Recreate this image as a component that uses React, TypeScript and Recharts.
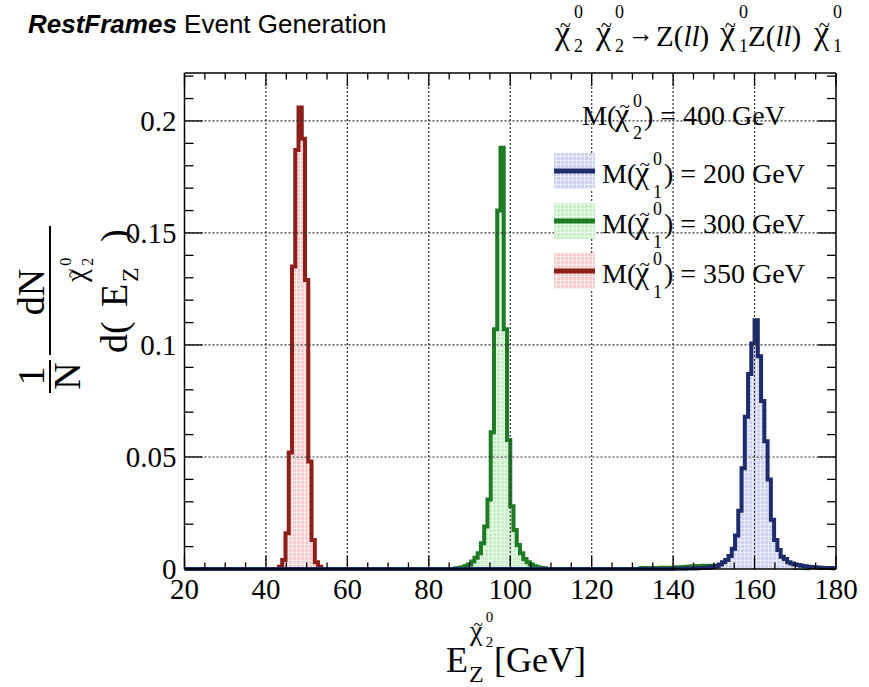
import React from 'react';
import { ComposedChart, Area, XAxis, YAxis, ReferenceLine } from 'recharts';

// ---------- binning (histogram with 0.8 GeV bins from 20 to 180) ----------
const X_MIN = 20;
const X_MAX = 180;
const BIN_WIDTH = 0.8;
const N_BINS = 200;
const Y_MAX = 0.2214;

// ---------- series values (per-bin fractions) ----------
// M(chi1) = 350 GeV (red), first bin index 29
const redStart = 29;
const redValues = [0.001, 0.004, 0.016, 0.052, 0.135, 0.187, 0.206, 0.192, 0.129, 0.048, 0.013, 0.003, 0.001];

// M(chi1) = 300 GeV (green), main peak, first bin index 83
const greenStart = 83;
const greenValues = [
  0.0003, 0.0005, 0.0008, 0.0013, 0.002, 0.0033, 0.005, 0.007, 0.0115, 0.019, 0.031, 0.061, 0.107, 0.16,
  0.188,
  0.107, 0.0576, 0.028, 0.0174, 0.0107, 0.007, 0.0045, 0.003, 0.002, 0.0012, 0.0008, 0.0005, 0.0003,
];
// green small tail at high energy, first bin index 140
const greenTailStart = 140;
const greenTailValues = [
  0.0004, 0.0005, 0.0005, 0.0004, 0.0005, 0.0005, 0.0006, 0.0005, 0.0006, 0.0006, 0.0007,
  0.0008, 0.0008, 0.0009, 0.0010, 0.0011,
  0.0012, 0.0013, 0.0013, 0.0014, 0.0014, 0.0015, 0.0014, 0.0015, 0.0015, 0.0016,
  0.0015, 0.0016, 0.0015, 0.0015, 0.0014, 0.0015, 0.0014, 0.0014, 0.0013, 0.0014,
  0.0013, 0.0013, 0.0012, 0.0012, 0.0011, 0.0011, 0.0010, 0.0010, 0.0009, 0.0009,
  0.0008, 0.0007, 0.0006, 0.0005, 0.0004, 0.0003,
];

// M(chi1) = 200 GeV (blue), first bin index 150
const blueStart = 150;
const blueValues = [
  0.0001, 0.0001, 0.00015, 0.00015, 0.0002, 0.0002, 0.00025, 0.0003, 0.0004, 0.0005,
  0.0006, 0.0008, 0.001, 0.0013, 0.002, 0.003, 0.004, 0.0058, 0.009, 0.015,
  0.026, 0.045, 0.068, 0.087, 0.1007, 0.111, 0.095, 0.075, 0.057, 0.04,
  0.022, 0.013, 0.0085, 0.0055, 0.0045, 0.003, 0.0025, 0.002, 0.0018, 0.0015,
  0.0012, 0.001, 0.0009, 0.0008, 0.0007, 0.0006, 0.0005, 0.0004, 0.0004, 0.0003,
];

// ---------- axis ticks ----------
const xTicks = [20, 25, 30, 35, 40, 45, 50, 55, 60, 65, 70, 75, 80, 85, 90, 95, 100, 105, 110, 115, 120, 125, 130, 135, 140, 145, 150, 155, 160, 165, 170, 175, 180];
const xMajor = [20, 40, 60, 80, 100, 120, 140, 160, 180];
const xLabels = ['20', '40', '60', '80', '100', '120', '140', '160', '180'];
const xGrid = [40, 60, 80, 100, 120, 140, 160];

const yTicks = [0, 0.01, 0.02, 0.03, 0.04, 0.05, 0.06, 0.07, 0.08, 0.09, 0.1, 0.11, 0.12, 0.13, 0.14, 0.15, 0.16, 0.17, 0.18, 0.19, 0.2, 0.21, 0.22];
const yMajor = [0, 0.05, 0.1, 0.15, 0.2];
const yLabels = ['0', '0.05', '0.1', '0.15', '0.2'];
const yGrid = [0.05, 0.1, 0.15, 0.2];

// ---------- legend ----------
const headerText = { sub: '2', rest: ') = 400 GeV' };
const legendItems = [
  { key: 'blue', sub: '1', rest: ') = 200 GeV', stroke: '#1f2c6c', pattern: 'lgBlue' },
  { key: 'green', sub: '1', rest: ') = 300 GeV', stroke: '#1e7a23', pattern: 'lgGreen' },
  { key: 'red', sub: '1', rest: ') = 350 GeV', stroke: '#8c1f1a', pattern: 'lgRed' },
];

// ---------- build the table for the library ----------
// value of a bin: its reading inside the range, 0 right next to it, nothing further away
const pick = (start: number, vals: number[], k: number) => {
  const i = k - start;
  if (i >= 0 && i < vals.length) return vals[i];
  if (i === -1 || i === vals.length) return 0;
  return null;
};
const sumOrNull = (a: number | null, b: number | null) => (a === null && b === null ? null : (a || 0) + (b || 0));
const data = Array.from({ length: N_BINS + 1 }, (_, k) => {
  const kk = Math.min(k, N_BINS - 1);
  const g1 = pick(greenStart, greenValues, kk);
  const g2 = pick(greenTailStart, greenTailValues, kk);
  const between = kk > greenStart + greenValues.length && kk < greenTailStart ? 0 : null;
  return {
    x: +(X_MIN + k * BIN_WIDTH).toFixed(2),
    red: pick(redStart, redValues, kk),
    green: between !== null ? 0 : sumOrNull(g1, g2),
    blue: pick(blueStart, blueValues, kk) ?? 0,
  };
});

// ---------- layout ----------
const W = 869;
const H = 687;
const MARGIN = { top: 73, right: 33, bottom: 78, left: 124.5 };
const PLOT_TOP = MARGIN.top;
const PLOT_RIGHT = W - MARGIN.right;
const SERIF = "'Liberation Serif', 'Times New Roman', serif";
const SANS = "'Liberation Sans', Arial, sans-serif";

const XTick = (props: any) => {
  const { x, y, payload } = props;
  const v = payload.value;
  const mi = xMajor.indexOf(v);
  const len = mi >= 0 ? 13 : 6.5;
  return (
    <g>
      <line x1={x} x2={x} y1={y} y2={y - len} stroke="#000" strokeWidth={1.3} />
      <line x1={x} x2={x} y1={PLOT_TOP} y2={PLOT_TOP + len} stroke="#000" strokeWidth={1.3} />
      {mi >= 0 && (
        <text x={x} y={y + 30} textAnchor="middle" fontFamily={SERIF} fontSize={29} fill="#000">
          {xLabels[mi]}
        </text>
      )}
    </g>
  );
};

const YTick = (props: any) => {
  const { x, y, payload } = props;
  const v = payload.value;
  const mi = yMajor.findIndex((m) => Math.abs(m - v) < 1e-9);
  const len = mi >= 0 ? 18 : 9;
  return (
    <g>
      <line x1={x} x2={x + len} y1={y} y2={y} stroke="#000" strokeWidth={1.3} />
      <line x1={PLOT_RIGHT} x2={PLOT_RIGHT - len} y1={y} y2={y} stroke="#000" strokeWidth={1.3} />
      {mi >= 0 && (
        <text x={x - 8} y={y} dy="0.35em" textAnchor="end" fontFamily={SERIF} fontSize={29} fill="#000">
          {yLabels[mi]}
        </text>
      )}
    </g>
  );
};

const Pattern = ({ id, base, dot }: { id: string; base: string; dot: string }) => (
  <pattern id={id} width="4" height="4" patternUnits="userSpaceOnUse">
    <rect width="4" height="4" fill={base} />
    <rect x="0" y="0" width="4" height="1" fill={dot} />
    <rect x="0" y="0" width="1" height="4" fill={dot} />
  </pattern>
);

// chi with tilde, superscript and subscript
const Chi = ({ x, y, size, sup, sub, small, supDy, subDy }: any) => (
  <g fontFamily={SERIF} fill="#000">
    <text x={x} y={y} fontSize={size}>χ</text>
    <text x={x + size * 0.3} y={y - size * 0.36} fontSize={size * 0.6} textAnchor="middle">~</text>
    <text x={x + size * 0.56} y={y + supDy} fontSize={small}>{sup}</text>
    <text x={x + size * 0.56} y={y + subDy} fontSize={small}>{sub}</text>
  </g>
);

const Overlay = () => (
  <svg width={W} height={H} style={{ position: 'absolute', left: 0, top: 0, pointerEvents: 'none' }}>
    <defs>
      <Pattern id="lgBlue" base="#cdd1f2" dot="#eceefb" />
      <Pattern id="lgGreen" base="#c6efc6" dot="#ecfaec" />
      <Pattern id="lgRed" base="#f8cccc" dot="#fdeeee" />
    </defs>
    {/* top-left title */}
    <text x={28} y={33} fontFamily={SANS} fontSize={26} fill="#000">
      <tspan fontWeight="bold" fontStyle="italic">RestFrames</tspan>
      <tspan> Event Generation</tspan>
    </text>
    {/* top-right process */}
    <Chi x={555} y={44} size={34} sup="0" sub="2" small={18} supDy={-26} subDy={8} />
    <Chi x={596} y={44} size={34} sup="0" sub="2" small={18} supDy={-26} subDy={8} />
    <text x={628} y={42} fontFamily={SERIF} fontSize={26} fill="#000">→</text>
    <text x={656} y={46} fontFamily={SERIF} fontSize={29} fill="#000">
      Z(<tspan fontStyle="italic">ll</tspan>)
    </text>
    <Chi x={720} y={44} size={34} sup="0" sub="1" small={18} supDy={-26} subDy={8} />
    <text x={748} y={46} fontFamily={SERIF} fontSize={29} fill="#000">
      Z(<tspan fontStyle="italic">ll</tspan>)
    </text>
    <Chi x={814} y={44} size={34} sup="0" sub="1" small={18} supDy={-26} subDy={8} />

    {/* legend header */}
    <text x={582} y={125} fontFamily={SERIF} fontSize={28} fill="#000">M(</text>
    <Chi x={615} y={125} size={32} sup="0" sub={headerText.sub} small={18} supDy={-18} subDy={14} />
    <text x={644} y={125} fontFamily={SERIF} fontSize={28} fill="#000" xmlSpace="preserve">{headerText.rest}</text>
    {/* legend entries */}
    {legendItems.map((it, i) => {
      const by = 183 + i * 50;
      return (
        <g key={it.key}>
          <rect x={554} y={by - 30} width={41} height={36} fill={`url(#${it.pattern})`} />
          <line x1={554} x2={595} y1={by - 12} y2={by - 12} stroke={it.stroke} strokeWidth={5} />
          <text x={602} y={by} fontFamily={SERIF} fontSize={28} fill="#000">M(</text>
          <Chi x={635} y={by} size={32} sup="0" sub={it.sub} small={18} supDy={-18} subDy={15} />
          <text x={664} y={by} fontFamily={SERIF} fontSize={28} fill="#000" xmlSpace="preserve">{it.rest}</text>
        </g>
      );
    })}

    {/* x-axis title */}
    <text x={446} y={672} fontFamily={SERIF} fontSize={36} fill="#000">E</text>
    <text x={469} y={682} fontFamily={SERIF} fontSize={24} fill="#000">Z</text>
    <Chi x={470} y={640} size={28} sup="0" sub="2" small={15} supDy={-18} subDy={7} />
    <text x={494} y={672} fontFamily={SERIF} fontSize={36} fill="#000">[GeV]</text>

    {/* y-axis title (rotated) */}
    <g transform="translate(50,300) rotate(-90)" fontFamily={SERIF} fill="#000">
      <text x={-76} y={-6} fontSize={38} textAnchor="middle">1</text>
      <line x1={-93} x2={-60} y1={0} y2={0} stroke="#000" strokeWidth={2} />
      <text x={-76} y={30} fontSize={38} textAnchor="middle">N</text>
      <text x={8} y={-6} fontSize={38} textAnchor="middle">dN</text>
      <line x1={-55} x2={74} y1={0} y2={0} stroke="#000" strokeWidth={2} />
      <text x={-53} y={77} fontSize={38}>d(</text>
      <text x={-7} y={77} fontSize={38}>E</text>
      <text x={18} y={88} fontSize={24}>Z</text>
      <Chi x={18} y={36} size={29} sup="0" sub="2" small={16} supDy={-15} subDy={7} />
      <text x={58} y={77} fontSize={38}>)</text>
    </g>
  </svg>
);

export default function App() {
  return (
    <div style={{ position: 'absolute', left: 0, top: 0, width: W, height: H, background: '#fff' }}>
      <ComposedChart width={W} height={H} data={data} margin={MARGIN}>
        <defs>
          <Pattern id="fBlue" base="#cdd1f2" dot="#eceefb" />
          <Pattern id="fGreen" base="#c6efc6" dot="#ecfaec" />
          <Pattern id="fRed" base="#f8cccc" dot="#fdeeee" />
        </defs>
        <XAxis
          type="number"
          dataKey="x"
          domain={[X_MIN, X_MAX]}
          ticks={xTicks}
          interval={0}
          tick={(p: any) => <XTick {...p} />}
          tickLine={false}
          tickSize={0}
          tickMargin={0}
          height={40}
          axisLine={{ stroke: '#000', strokeWidth: 1.5 }}
        />
        <YAxis
          type="number"
          domain={[0, Y_MAX]}
          ticks={yTicks}
          interval={0}
          tick={(p: any) => <YTick {...p} />}
          tickLine={false}
          tickSize={0}
          tickMargin={0}
          width={60}
          axisLine={{ stroke: '#000', strokeWidth: 1.5 }}
        />
        {xGrid.map((v) => (
          <ReferenceLine key={'gx' + v} x={v} stroke="#333" strokeWidth={1.2} strokeDasharray="2 2" />
        ))}
        {yGrid.map((v) => (
          <ReferenceLine key={'gy' + v} y={v} stroke="#333" strokeWidth={1.2} strokeDasharray="2 2" />
        ))}
        <ReferenceLine y={Y_MAX} stroke="#000" strokeWidth={1.5} />
        <ReferenceLine x={X_MAX} stroke="#000" strokeWidth={1.5} />
        <Area type="stepAfter" dataKey="red" stroke="#8c1f1a" strokeWidth={4} fill="url(#fRed)" fillOpacity={1} isAnimationActive={false} dot={false} activeDot={false} />
        <Area type="stepAfter" dataKey="green" stroke="#1e7a23" strokeWidth={4} fill="url(#fGreen)" fillOpacity={1} isAnimationActive={false} dot={false} activeDot={false} />
        <Area type="stepAfter" dataKey="blue" stroke="#1f2c6c" strokeWidth={4} fill="url(#fBlue)" fillOpacity={1} isAnimationActive={false} dot={false} activeDot={false} />
      </ComposedChart>
      <Overlay />
    </div>
  );
}
